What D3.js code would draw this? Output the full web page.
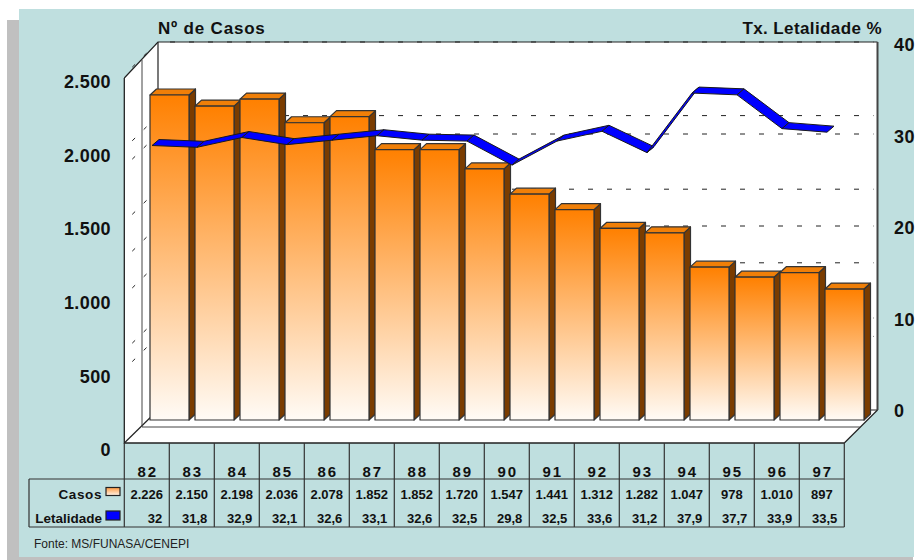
<!DOCTYPE html>
<html>
<head>
<meta charset="utf-8">
<script src="https://cdn.jsdelivr.net/npm/d3@7"></script>
<style>
  html, body { margin: 0; padding: 0; background: #ffffff; }
  svg { display: block; }
  text { font-family: Arial, "Liberation Sans", sans-serif; fill: #111; }
</style>
</head>
<body>
<svg id="chart" width="918" height="560"></svg>
<script>
// ---- data ----
const years = ["82", "83", "84", "85", "86", "87", "88", "89", "90", "91", "92", "93", "94", "95", "96", "97"];
const casos = [2226, 2150, 2198, 2036, 2078, 1852, 1852, 1720, 1547, 1441, 1312, 1282, 1047, 978, 1010, 897];
const letalidade = [32, 31.8, 32.9, 32.1, 32.6, 33.1, 32.6, 32.5, 29.8, 32.5, 33.6, 31.2, 37.9, 37.7, 33.9, 33.5];
const casosTicks = [0, 500, 1000, 1500, 2000, 2500];
const letalTicks = [0, 10, 20, 30, 40];
const titleLeft = "Nº de Casos";
const titleRight = "Tx. Letalidade %";
const rowLabels = ["Casos", "Letalidade"];
const fonte = "Fonte:  MS/FUNASA/CENEPI";

// ---- number formats (pt-BR) ----
const ptBR = d3.formatLocale({ decimal: ",", thousands: ".", grouping: [3], currency: ["R$", ""] });
const fmtInt = ptBR.format(",.0f");
const fmtDec = v => Number.isInteger(v) ? String(v) : ptBR.format(".1f")(v);

const svg = d3.select("#chart");
const defs = svg.append("defs");

// ---- 3D frame geometry ----
const frontL = 124.3, frontR = 844.3, frontY = 443;   // front edge of the floor
const backL = 158, backR = 877.5, backTop = 42, backBottom = 410;
const wallTopFront = 78;
const depthX = backL - frontL, depthY = frontY - backBottom;

// ---- scales ----
const x = d3.scaleBand().domain(years).range([frontL, frontR]).padding(0);
const yBar = d3.scaleLinear().domain([0, 2500]).range([420, 55]);
const yBackCasos = d3.scaleLinear().domain([0, 2500]).range([backBottom, backTop]);
const yBackLetal = d3.scaleLinear().domain([0, 40]).range([backBottom, backTop]);
const yRibbon = d3.scaleLinear().domain([0, 40]).range([430, 74.4]);
const yLeftAxis = d3.scaleLinear().domain([0, 2500]).range([450, 82]);
const yRightAxis = d3.scaleLinear().domain([0, 40]).range([411, 45]);

// ---- panel with drop shadow ----
svg.append("rect").attr("x", 7).attr("y", 20).attr("width", 906).attr("height", 540).attr("fill", "#c0c0c0");
svg.append("rect").attr("x", 19).attr("y", 9).attr("width", 895).attr("height", 548).attr("fill", "#bfdfdf");

// ---- walls and floor ----
const line = d3.line();
svg.append("rect").attr("x", backL).attr("y", backTop)
  .attr("width", backR - backL).attr("height", backBottom - backTop).attr("fill", "#fff");
svg.append("path").attr("fill", "#fff")
  .attr("d", line([[frontL, wallTopFront], [backL, backTop], [backL, backBottom], [frontL, frontY]]) + "Z");
svg.append("path").attr("fill", "#fff")
  .attr("d", line([[frontL, frontY], [backL, backBottom], [backR, backBottom], [frontR, frontY]]) + "Z");

// dashed grid lines on the back wall (both value scales)
const grid = svg.append("g").attr("stroke", "#222").attr("stroke-width", 1).attr("stroke-dasharray", "5,14");
const gridYs = casosTicks.slice(1).map(v => yBackCasos(v)).concat(letalTicks.slice(1, 4).map(v => yBackLetal(v)));
gridYs.forEach(gy => {
  grid.append("line").attr("x1", backL + 12).attr("x2", backR - 4).attr("y1", gy).attr("y2", gy);
});
// grid continuing across the side wall
const sideGrid = svg.append("g").attr("stroke", "#222").attr("stroke-width", 1).attr("stroke-dasharray", "4,12");
gridYs.forEach(gy => {
  sideGrid.append("line").attr("x1", backL).attr("y1", gy).attr("x2", frontL + 2).attr("y2", gy + depthY - 2);
});

// frame edges
const edges = svg.append("g").attr("stroke", "#222").attr("stroke-width", 1.2).attr("fill", "none");
edges.append("path").attr("d", line([[frontL, wallTopFront], [backL, backTop], [backR, backTop]]));
edges.append("path").attr("d", line([[backL, backTop], [backL, backBottom], [backR, backBottom]]));
edges.append("path").attr("d", line([[frontL, frontY], [backL, backBottom]]));
edges.append("path").attr("d", line([[frontR, frontY], [backR, backBottom]]));
// mid-depth guide lines of the side wall and floor
edges.append("path").attr("stroke", "#444").attr("stroke-width", 1)
  .attr("d", line([[frontL + 17.7, 60], [frontL + 17.7, 427], [frontR + 15.5, 427]]));
svg.append("line").attr("x1", backR).attr("x2", backR).attr("y1", backTop).attr("y2", backBottom)
  .attr("stroke", "#444").attr("stroke-width", 2);

// ---- bars ----
const barGrad = defs.append("linearGradient").attr("id", "barGrad").attr("x1", 0).attr("y1", 0).attr("x2", 0).attr("y2", 1);
barGrad.append("stop").attr("offset", "0%").attr("stop-color", "#ff8000");
barGrad.append("stop").attr("offset", "100%").attr("stop-color", "#fffbf6");

const barOffset = 25.7, barW = 39, bdx = 6.5, bdy = 6;
const bars = svg.append("g");
years.forEach((yr, i) => {
  const x0 = x(yr) + barOffset, x1 = x0 + barW;
  const yt = yBar(casos[i]), yb = yBar(0);
  const g = bars.append("g").attr("stroke", "#333").attr("stroke-width", 1.2).attr("stroke-linejoin", "round");
  g.append("path").attr("fill", "#7a3c00")
    .attr("d", line([[x1, yt], [x1 + bdx, yt - bdy], [x1 + bdx, yb - bdy], [x1, yb]]) + "Z");
  g.append("path").attr("fill", "#f07f08")
    .attr("d", line([[x0, yt], [x0 + bdx, yt - bdy], [x1 + bdx, yt - bdy], [x1, yt]]) + "Z");
  g.append("rect").attr("x", x0).attr("y", yt).attr("width", barW).attr("height", yb - yt)
    .attr("fill", "url(#barGrad)");
});

// ---- letality ribbon ----
const ribOffset = 27.7, rdx = 7, rdy = 6;
const ribbon = svg.append("g").attr("fill", "#0000ff").attr("stroke", "#1a1a1a")
  .attr("stroke-width", 1).attr("stroke-linejoin", "round");
for (let i = 0; i < years.length - 1; i++) {
  const ax = x(years[i]) + ribOffset, ay = yRibbon(letalidade[i]);
  const bx = x(years[i + 1]) + ribOffset, by = yRibbon(letalidade[i + 1]);
  ribbon.append("path")
    .attr("d", line([[ax, ay], [bx, by], [bx + rdx, by - rdy], [ax + rdx, ay - rdy]]) + "Z");
}

// front edges drawn last
const front = svg.append("g").attr("stroke", "#222").attr("stroke-width", 1.3).attr("fill", "none");
front.append("path").attr("d", line([[frontL, wallTopFront], [frontL, frontY], [frontR, frontY]]));

// ---- axes ----
const leftAxis = svg.append("g").attr("transform", "translate(111,0)")
  .call(d3.axisLeft(yLeftAxis).tickValues(casosTicks).tickFormat(fmtInt).tickSize(0).tickPadding(0));
const rightAxis = svg.append("g").attr("transform", "translate(894,0)")
  .call(d3.axisRight(yRightAxis).tickValues(letalTicks).tickFormat(d3.format("d")).tickSize(0).tickPadding(0));
[leftAxis, rightAxis].forEach(a => {
  a.select(".domain").remove();
  a.selectAll("text").attr("fill", "#111").style("font-family", "Arial, 'Liberation Sans', sans-serif")
    .style("font-size", "18px").style("font-weight", "bold").style("letter-spacing", "0.4px");
});

// titles
svg.append("text").attr("x", 158).attr("y", 34).text(titleLeft)
  .style("font-size", "17px").style("font-weight", "bold").style("letter-spacing", "0.8px");
svg.append("text").attr("x", 882).attr("y", 34).attr("text-anchor", "end").text(titleRight)
  .style("font-size", "17px").style("font-weight", "bold").style("letter-spacing", "0.4px");

// ---- data table ----
const tbl = svg.append("g").attr("stroke", "#333").attr("stroke-width", 1.2);
x.domain().forEach(yr => {
  tbl.append("line").attr("x1", x(yr)).attr("x2", x(yr)).attr("y1", frontY).attr("y2", 527);
});
tbl.append("line").attr("x1", frontR).attr("x2", frontR).attr("y1", frontY).attr("y2", 527);
tbl.append("line").attr("x1", 29).attr("x2", frontR).attr("y1", 479).attr("y2", 479);
tbl.append("line").attr("x1", 29).attr("x2", frontR).attr("y1", 527).attr("y2", 527);
tbl.append("line").attr("x1", 29).attr("x2", 29).attr("y1", 479).attr("y2", 527);

const cells = svg.append("g");
years.forEach((yr, i) => {
  const cx = x(yr) + x.bandwidth() / 2;
  cells.append("text").attr("x", cx + 1).attr("y", 476.5).attr("text-anchor", "middle").text(yr)
    .style("font-size", "15px").style("font-weight", "bold").style("letter-spacing", "2px");
  cells.append("text").attr("x", cx).attr("y", 498.6).attr("text-anchor", "middle").text(fmtInt(casos[i]))
    .style("font-size", "13px").style("font-weight", "bold");
  cells.append("text").attr("x", x(yr) + x.bandwidth() - 7).attr("y", 522.6).attr("text-anchor", "end")
    .text(fmtDec(letalidade[i]))
    .style("font-size", "13px").style("font-weight", "bold");
});

// row labels with legend keys
const legGrad = defs.append("linearGradient").attr("id", "legGrad").attr("x1", 0).attr("y1", 0).attr("x2", 0).attr("y2", 1);
legGrad.append("stop").attr("offset", "0%").attr("stop-color", "#ff9a40");
legGrad.append("stop").attr("offset", "100%").attr("stop-color", "#fff4ea");
svg.append("text").attr("x", 102).attr("y", 498.6).attr("text-anchor", "end").text(rowLabels[0])
  .style("font-size", "13.5px").style("font-weight", "bold").style("letter-spacing", "0.6px");
svg.append("text").attr("x", 102).attr("y", 522.6).attr("text-anchor", "end").text(rowLabels[1])
  .style("font-size", "13.5px").style("font-weight", "bold");
svg.append("rect").attr("x", 106).attr("y", 487.5).attr("width", 14).attr("height", 8)
  .attr("fill", "url(#legGrad)").attr("stroke", "#222").attr("stroke-width", 1.2);
svg.append("rect").attr("x", 106).attr("y", 511).attr("width", 14).attr("height", 9)
  .attr("fill", "#0000ff").attr("stroke", "#222").attr("stroke-width", 1.2);

// source note
svg.append("text").attr("x", 34).attr("y", 547.5).text(fonte)
  .style("font-size", "12px").style("fill", "#222");
</script>
</body>
</html>
